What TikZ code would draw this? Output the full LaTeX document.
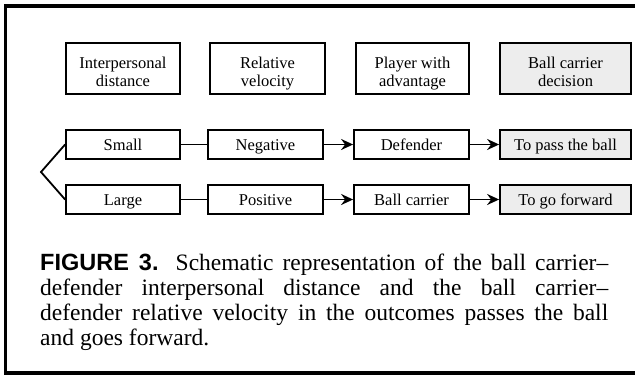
\documentclass[tikz,border=0pt]{standalone}
\usepackage{fontspec}
\setmainfont{Liberation Serif}
\newfontfamily\capfont{Liberation Sans}
\usetikzlibrary{arrows.meta,calc}
\definecolor{DecisionClr}{rgb}{0.93,0.93,0.93}

\tikzset{
  headbox/.style={draw,line width=1.8pt,minimum height=51pt,align=center,
    inner sep=2pt,text height=36.5pt,text depth=0pt,
    font=\fontsize{16.5}{18.5}\selectfont},
  rowbox/.style={draw,line width=1.8pt,minimum height=29.5pt,inner sep=2pt,
    text height=13pt,text depth=0.5pt,font=\fontsize{16.5}{18.5}\selectfont},
  decision/.style={fill=DecisionClr},
  link/.style={line width=1.8pt},
  flow/.style={line width=1.8pt,-{Stealth[length=12pt,width=11pt,inset=4pt]}}
}

\begin{document}
\begin{tikzpicture}[x=1pt,y=-1pt]
\useasboundingbox (0,0) rectangle (635,376);

% frame, open on the right
\draw[line width=3.5pt] (635,6) -- (5.5,6) -- (5.5,373) -- (635,373);

% column heads
\node[headbox,minimum width=114pt] (dist) at (123,68.5) {Interpersonal\\distance};
\node[headbox,minimum width=115pt] (vel) at (267.5,68.5) {Relative\\velocity};
\node[headbox,minimum width=113pt] (adv) at (412.5,68.5) {Player with\\advantage};
\node[headbox,decision,minimum width=131pt] (dec) at (565.5,68.5) {Ball carrier\\decision};

% first row
\node[rowbox,minimum width=114pt] (small) at (123,144.5) {Small};
\node[rowbox,minimum width=115pt] (neg) at (265.5,144.5) {Negative};
\node[rowbox,minimum width=115pt] (def) at (411.5,144.5) {Defender};
\node[rowbox,decision,minimum width=131pt] (pass) at (565.5,144.5) {To pass the ball};

% second row
\node[rowbox,minimum width=114pt] (large) at (123,199.5) {Large};
\node[rowbox,minimum width=115pt] (pos) at (265.5,199.5) {Positive};
\node[rowbox,minimum width=115pt] (carrier) at (411.5,199.5) {Ball carrier};
\node[rowbox,decision,minimum width=131pt] (fwd) at (565.5,199.5) {To go forward};

% fork
\coordinate (fork) at (41,172);
\draw[link] (small.west) -- (fork) -- (large.west);

\draw[link] (small) -- (neg);
\draw[link] (large) -- (pos);
\draw[flow] (neg) -- (def);
\draw[flow] (def) -- (pass);
\draw[flow] (pos) -- (carrier);
\draw[flow] (carrier) -- (fwd);

% caption
\node[anchor=north west,inner sep=0pt,text width=568pt,align=justify,
  font=\fontsize{23.5}{25}\selectfont] (caption) at (40,254)
  {\hyphenpenalty=10000\tolerance=10000
   {\capfont\bfseries FIGURE 3.} Schematic representation of the ball carrier–\linebreak
   defender interpersonal distance and the ball carrier–\linebreak
   defender relative velocity in the outcomes passes the ball\linebreak
   and goes forward.};

\end{tikzpicture}
\end{document}
